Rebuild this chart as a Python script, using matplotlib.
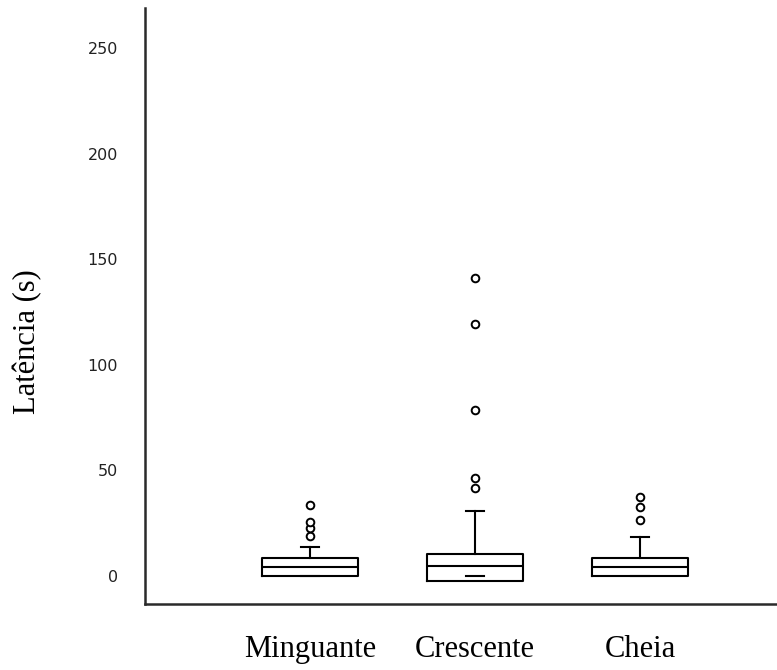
import matplotlib.pyplot as plt

# box statistics per lunar phase (latency in seconds)
fases = ["Minguante", "Crescente", "Cheia"]
q1 = [0.0, -2.4, 0.0]
mediana = [4.4, 4.7, 4.4]
q3 = [8.4, 10.3, 8.4]
bigode_inf = [0.0, 0.0, 0.0]
bigode_sup = [13.9, 30.9, 18.6]
outliers = [
    [19.0, 22.5, 25.5, 33.6],
    [41.8, 46.2, 78.7, 119.3, 141.0],
    [26.5, 32.6, 37.6],
]
yticks = [0, 50, 100, 150, 200, 250]

stats = []
for i, nome in enumerate(fases):
    stats.append(dict(label=nome, q1=q1[i], med=mediana[i], q3=q3[i],
                      whislo=bigode_inf[i], whishi=bigode_sup[i],
                      fliers=outliers[i]))

fig = plt.figure(figsize=(7.77, 6.70), dpi=100)
ax = fig.add_axes([0.1866, 0.0985, 0.8134, 0.8895])

linha = dict(color="black", linewidth=1.5)
art = ax.bxp(stats, positions=[1, 2, 3], widths=0.58, capwidths=0.11,
             boxprops=linha, medianprops=linha, whiskerprops=linha,
             capprops=linha,
             flierprops=dict(marker="o", markersize=5.5, markerfacecolor="white",
                             markeredgecolor="black", markeredgewidth=1.4,
                             linestyle="none"))
# lower whisker of Crescente sits inside the box: only the cap shows
art["whiskers"][2].set_visible(False)

ax.set_xlim(0, 3.83)
ax.set_ylim(-13.3, 269)
ax.set_yticks(yticks)
ax.set_yticklabels([str(v) for v in yticks], fontsize=11.5, family="DejaVu Sans",
                   color="#222222")
ax.tick_params(axis="y", length=0, pad=19.4)
ax.tick_params(axis="x", length=0, pad=22.5)
ax.set_xticks([1, 2, 3])
ax.set_xticklabels(fases, fontsize=22, family="Liberation Serif")

for s in ["top", "right"]:
    ax.spines[s].set_visible(False)
for s in ["left", "bottom"]:
    ax.spines[s].set_linewidth(1.8)
    ax.spines[s].set_color("#2a2a2a")

fig.text(28 / 777, 1 - 342 / 670, "Latência (s)", rotation=90, fontsize=22,
         family="Liberation Serif", ha="center", va="center")

fig.savefig("out.png", dpi=100)
